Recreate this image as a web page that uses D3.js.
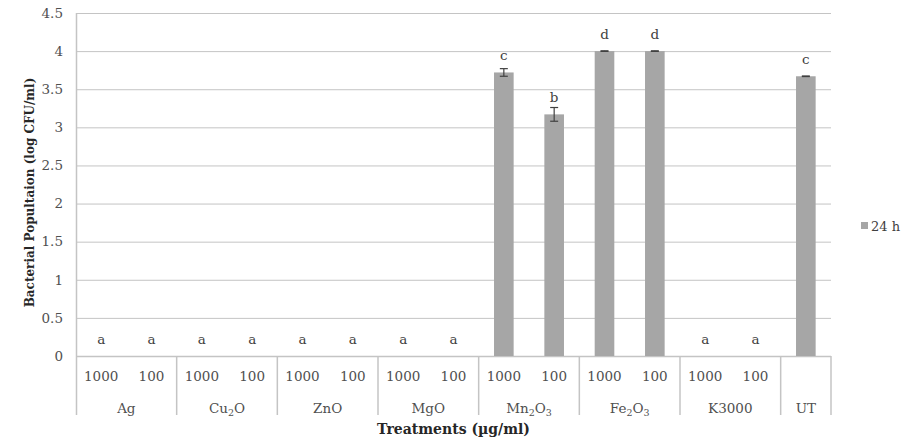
<!DOCTYPE html>
<html>
<head>
<meta charset="utf-8">
<script src="https://cdn.jsdelivr.net/npm/d3@7"></script>
<style>
  html, body { margin: 0; padding: 0; background: #fff; }
  svg { display: block; font-family: "DejaVu Serif", serif; }
</style>
</head>
<body>
<svg id="chart" width="908" height="439"></svg>
<script>
// ---- data ----
const groups = [
  [{t:"Ag"}],
  [{t:"Cu"},{t:"2",sub:true},{t:"O"}],
  [{t:"ZnO"}],
  [{t:"MgO"}],
  [{t:"Mn"},{t:"2",sub:true},{t:"O"},{t:"3",sub:true}],
  [{t:"Fe"},{t:"2",sub:true},{t:"O"},{t:"3",sub:true}],
  [{t:"K3000"}],
  [{t:"UT"}]
];
const groupSizes = [2,2,2,2,2,2,2,1];
const concentrations = ["1000","100","1000","100","1000","100","1000","100","1000","100","1000","100","1000","100",""];
const values = [0,0,0,0,0,0,0,0,3.72,3.17,4.0,4.0,0,0,3.67];
const errors = [0,0,0,0,0,0,0,0,0.05,0.09,0.004,0.004,0,0,0.004];
const letters = ["a","a","a","a","a","a","a","a","c","b","d","d","a","a","c"];
const yTicks = [0,0.5,1,1.5,2,2.5,3,3.5,4,4.5];
const seriesName = "24 h";

// ---- layout ----
const pL = 76, pR = 831, pT = 13, pB = 356;
const svg = d3.select("#chart");
const idx = d3.range(values.length);

const x = d3.scaleBand().domain(idx).range([pL, pR]).paddingInner(0.61).paddingOuter(0.305);
const y = d3.scaleLinear().domain([0, 4.5]).range([pB, pT]);

const gridColor = "#c4c4c4";
const textColor = "#505050";

// gridlines
svg.append("g").selectAll("line").data(yTicks.filter(d => d > 0)).join("line")
  .attr("x1", pL).attr("x2", pR)
  .attr("y1", d => y(d) + 0.5).attr("y2", d => y(d) + 0.5)
  .attr("stroke", gridColor).attr("stroke-width", 1);

// y axis
const yAxis = svg.append("g").attr("transform", `translate(${pL},0)`)
  .call(d3.axisLeft(y).tickValues(yTicks).tickSize(0).tickPadding(13).tickFormat(d => String(d)));
yAxis.select(".domain").remove();
yAxis.selectAll("text").attr("fill", textColor).attr("font-size", 13.5)
  .attr("font-family", "DejaVu Serif, serif");

// axis lines
svg.append("line").attr("x1", pL + 0.5).attr("x2", pL + 0.5).attr("y1", pT).attr("y2", 415)
  .attr("stroke", gridColor).attr("stroke-width", 1.5);
svg.append("line").attr("x1", pL).attr("x2", pR).attr("y1", pB + 0.5).attr("y2", pB + 0.5)
  .attr("stroke", gridColor).attr("stroke-width", 1.5);

// group separators
const step = x.step();
let cum = 0;
const groupBounds = groupSizes.map(s => { const a = cum; cum += s; return [a, cum]; });
svg.append("g").selectAll("line").data(groupBounds).join("line")
  .attr("x1", d => pL + d[1] * step).attr("x2", d => pL + d[1] * step)
  .attr("y1", pB).attr("y2", 415)
  .attr("stroke", gridColor).attr("stroke-width", 1.5);

// bars
svg.append("g").selectAll("rect").data(idx.filter(i => values[i] > 0)).join("rect")
  .attr("x", i => x(i)).attr("width", x.bandwidth())
  .attr("y", i => y(values[i])).attr("height", i => pB - y(values[i]))
  .attr("fill", "#a6a6a6");

// error bars
const eb = svg.append("g").attr("stroke", "#404040").attr("stroke-width", 1.2);
idx.filter(i => errors[i] > 0).forEach(i => {
  const cx = x(i) + x.bandwidth() / 2;
  const y1 = y(values[i] + errors[i]), y2 = y(values[i] - errors[i]);
  eb.append("line").attr("x1", cx).attr("x2", cx).attr("y1", y1).attr("y2", y2);
  eb.append("line").attr("x1", cx - 4).attr("x2", cx + 4).attr("y1", y1).attr("y2", y1);
  eb.append("line").attr("x1", cx - 4).attr("x2", cx + 4).attr("y1", y2).attr("y2", y2);
});

// letters
svg.append("g").selectAll("text").data(idx).join("text")
  .attr("x", i => x(i) + x.bandwidth() / 2)
  .attr("y", i => y(values[i]) - 12)
  .attr("text-anchor", "middle").attr("font-size", 13.5).attr("fill", "#404040")
  .text(i => letters[i]);

// concentration labels
svg.append("g").selectAll("text").data(idx).join("text")
  .attr("x", i => x(i) + x.bandwidth() / 2)
  .attr("y", 381)
  .attr("text-anchor", "middle").attr("font-size", 13.5).attr("fill", textColor)
  .text(i => concentrations[i]);

// group labels
const gl = svg.append("g").selectAll("text").data(groupBounds).join("text")
  .attr("x", d => pL + (d[0] + d[1]) / 2 * step)
  .attr("y", 413)
  .attr("text-anchor", "middle").attr("font-size", 13.5).attr("fill", textColor);
gl.each(function(d, gi) {
  const t = d3.select(this);
  let prevSub = false;
  groups[gi].forEach(p => {
    const ts = t.append("tspan").text(p.t);
    if (p.sub) { ts.attr("font-size", 9.5).attr("dy", prevSub ? 0 : 3); }
    else { ts.attr("dy", prevSub ? -3 : 0); }
    prevSub = !!p.sub;
  });
});

// axis titles
svg.append("text").attr("x", (pL + pR) / 2).attr("y", 434)
  .attr("text-anchor", "middle").attr("font-size", 14).attr("font-weight", "bold").attr("fill", "#262626")
  .text("Treatments (µg/ml)");
svg.append("text").attr("transform", `translate(34,${(pT + pB) / 2 + 8}) rotate(-90)`)
  .attr("text-anchor", "middle").attr("font-size", 12).attr("font-weight", "bold").attr("fill", "#262626")
  .text("Bacterial Popultaion (log CFU/ml)");

// legend
svg.append("rect").attr("x", 861).attr("y", 222).attr("width", 7).attr("height", 7).attr("fill", "#a6a6a6");
svg.append("text").attr("x", 871).attr("y", 231).attr("font-size", 13).attr("fill", "#404040")
  .text(seriesName);
</script>
</body>
</html>
